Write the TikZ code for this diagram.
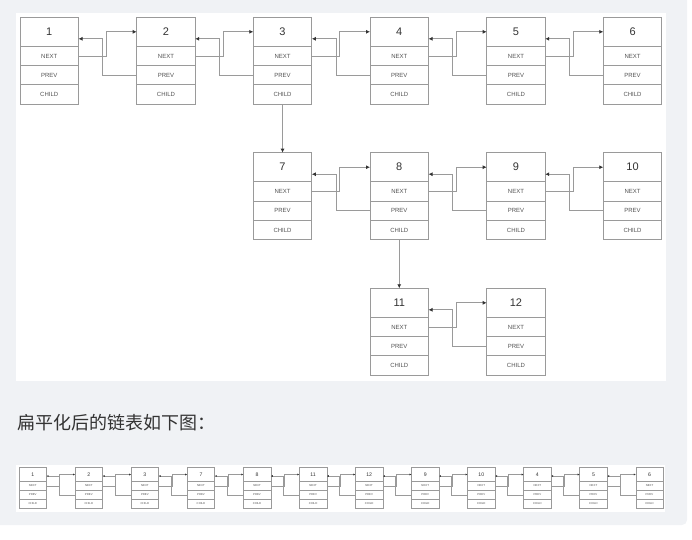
\documentclass[tikz,border=0pt]{standalone}
\usepackage{fontspec}
\setmainfont{Liberation Sans}
\newfontfamily\cjkfont{Noto Sans CJK SC}
\usetikzlibrary{positioning, arrows.meta}

\definecolor{pagegray}{HTML}{F0F2F5}
\definecolor{linegray}{HTML}{9A9A9A}
\definecolor{textgray}{HTML}{333333}

\begin{document}
\begin{tikzpicture}[x=1pt, y=-1pt,
    head/.style={rectangle, draw=linegray, line width=0.9pt, outer sep=0pt, minimum width=58.5pt, minimum height=29pt, inner sep=0pt, font=\fontsize{11}{11}\selectfont, text=textgray},
    field/.style={rectangle, draw=linegray, line width=0.9pt, outer sep=0pt, minimum width=58.5pt, minimum height=19.3pt, inner sep=0pt, font=\fontsize{6}{6}\selectfont, text=textgray!85},
    link/.style={draw=linegray, line width=0.9pt, -{Latex[length=4pt, width=4pt, color=black!80]}}
]
    \useasboundingbox (0,0) rectangle (692,539);
    \fill[pagegray, rounded corners=5pt] (-10,-10) rectangle (687,525);
    \fill[white] (16,13) rectangle (666,381);
    \fill[white] (16,465) rectangle (665,512);

    % nested list
    \foreach \id/\x/\y in {1/20/17.3, 2/136.7/17.3, 3/253.3/17.3, 4/370/17.3, 5/486.7/17.3, 6/603.3/17.3,
                           7/253.3/152.7, 8/370/152.7, 9/486.7/152.7, 10/603.3/152.7,
                           11/370/288.3, 12/486.7/288.3} {
        \node[head, anchor=north west] (n\id) at (\x,\y) {\id};
        \node[field, below=0pt of n\id] (n\id-next) {NEXT};
        \node[field, below=0pt of n\id-next] (n\id-prev) {PREV};
        \node[field, below=0pt of n\id-prev] (n\id-child) {CHILD};
    }

    \foreach \a/\b in {1/2, 2/3, 3/4, 4/5, 5/6, 7/8, 8/9, 9/10, 11/12} {
        \draw[link] (n\a-next.east) -- ++(28,0) |- (n\b.west);
        \draw[link] (n\b-prev.west) -- ++(-34,0) |- ([yshift=-7pt]n\a.east);
    }

    \draw[link] (n3-child.south) -- (n7.north);
    \draw[link] (n8-child.south) -- (n11.north);

    \node[anchor=west, font=\cjkfont\fontsize{18}{18}\selectfont, text=textgray] (caption) at (13.5,423) {扁平化后的链表如下图：};

    % flattened list
    \begin{scope}[shift={(19,467.7)}, scale=0.47, transform shape,
        head/.append style={line width=0.5pt},
        field/.append style={line width=0.5pt},
        link/.append style={line width=0.5pt, -{Latex[length=2pt, width=2pt, color=black!80]}}]
        \foreach \id [count=\i] in {1,2,3,7,8,11,12,9,10,4,5,6} {
            \node[head, anchor=north west] (f\i) at ({(\i-1)*119.3},0) {\id};
            \node[field, below=0pt of f\i] (f\i-next) {NEXT};
            \node[field, below=0pt of f\i-next] (f\i-prev) {PREV};
            \node[field, below=0pt of f\i-prev] (f\i-child) {CHILD};
        }
        \foreach \a [evaluate=\a as \b using int(\a+1)] in {1,...,11} {
            \draw[link] (f\a-next.east) -- ++(28,0) |- (f\b.west);
            \draw[link] (f\b-prev.west) -- ++(-34,0) |- ([yshift=-3.3pt]f\a.east);
        }
    \end{scope}
\end{tikzpicture}
\end{document}
